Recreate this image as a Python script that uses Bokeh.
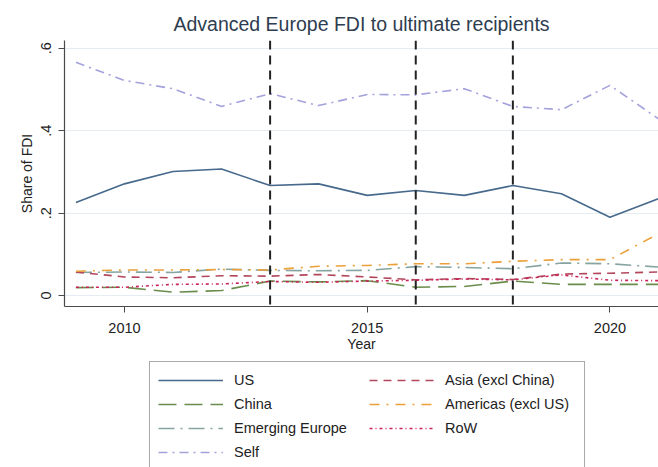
import math
from bokeh.plotting import figure
from bokeh.layouts import column
from bokeh.models import (ColumnDataSource, Span, Legend, LegendItem, FixedTicker, Range1d)
from bokeh.embed import file_html
from bokeh.resources import INLINE

# ---- data ----
years = [2009, 2010, 2011, 2012, 2013, 2014, 2015, 2016, 2017, 2018, 2019, 2020, 2021]
us = [0.226, 0.271, 0.301, 0.307, 0.267, 0.271, 0.243, 0.255, 0.243, 0.267, 0.247, 0.190, 0.235]
china = [0.019, 0.020, 0.008, 0.012, 0.035, 0.033, 0.036, 0.020, 0.022, 0.035, 0.027, 0.027, 0.027]
emerging_europe = [0.056, 0.057, 0.056, 0.064, 0.061, 0.060, 0.061, 0.070, 0.068, 0.065, 0.079, 0.077, 0.069]
self_share = [0.566, 0.522, 0.502, 0.459, 0.490, 0.461, 0.488, 0.487, 0.502, 0.459, 0.451, 0.510, 0.429]
asia_excl_china = [0.057, 0.045, 0.043, 0.048, 0.047, 0.051, 0.045, 0.038, 0.041, 0.039, 0.052, 0.054, 0.057]
americas_excl_us = [0.059, 0.062, 0.062, 0.063, 0.062, 0.071, 0.073, 0.077, 0.077, 0.083, 0.087, 0.087, 0.150]
row = [0.020, 0.020, 0.027, 0.028, 0.034, 0.032, 0.035, 0.037, 0.040, 0.038, 0.050, 0.037, 0.036]

series_names = ["US", "China", "Emerging Europe", "Self",
                "Asia (excl China)", "Americas (excl US)", "RoW"]
event_years = [2013, 2016, 2018]
y_ticks = [0, 0.2, 0.4, 0.6]
y_tick_labels = ["0", ".2", ".4", ".6"]
x_ticks = [2010, 2015, 2020]

# ---- styles ----
styles = {
    "US": dict(color="#46698c", dash="solid", width=1.6),
    "China": dict(color="#6a8c4c", dash="18 8", width=1.6),
    "Emerging Europe": dict(color="#86a4a0", dash="16 6 2 6", width=1.6),
    "Self": dict(color="#a3a2dc", dash="9 5 2 5", width=1.6),
    "Asia (excl China)": dict(color="#b2475c", dash="8 6", width=1.6),
    "Americas (excl US)": dict(color="#eba03a", dash="10 7 2 7", width=1.6),
    "RoW": dict(color="#c8245a", dash="3 3 1 3", width=1.6),
}

source = ColumnDataSource(dict(
    year=years, US=us, China=china, EE=emerging_europe, Self=self_share,
    Asia=asia_excl_china, Americas=americas_excl_us, RoW=row))
cols = {"US": "US", "China": "China", "Emerging Europe": "EE", "Self": "Self",
        "Asia (excl China)": "Asia", "Americas (excl US)": "Americas", "RoW": "RoW"}

FONT = "Liberation Sans"

# ---- main chart ----
p = figure(width=658, height=355, output_backend="svg", toolbar_location=None,
           x_range=Range1d(2008.765, 2021.0), y_range=Range1d(-0.0267, 0.619),
           min_border_left=64, min_border_right=0, min_border_top=40,
           min_border_bottom=49)
p.title.text = "Advanced Europe FDI to ultimate recipients"
p.title.align = "center"
p.title.text_font = FONT
p.title.text_font_size = "19.5px"
p.title.text_font_style = "normal"
p.title.text_color = "#2e3d50"
p.title.standoff = 11

p.outline_line_color = None
p.background_fill_color = "white"
p.border_fill_color = "white"

p.xgrid.visible = False
p.ygrid.grid_line_color = "#e6edf2"
p.ygrid.grid_line_width = 1
p.ygrid.ticker = FixedTicker(ticks=y_ticks)

p.yaxis.ticker = FixedTicker(ticks=y_ticks)
p.yaxis.major_label_overrides = {t: l for t, l in zip(y_ticks, y_tick_labels)}
p.yaxis.major_label_orientation = "vertical"
p.yaxis.axis_label = "Share of FDI"
p.xaxis.ticker = FixedTicker(ticks=x_ticks)
p.xaxis.axis_label = "Year"

for ax in (p.xaxis, p.yaxis):
    ax.axis_line_color = "#4a4a4a"
    ax.axis_line_width = 1.2
    ax.major_tick_line_color = "#4a4a4a"
    ax.major_tick_out = 6
    ax.major_tick_in = 0
    ax.minor_tick_line_color = None
    ax.major_label_text_font = FONT
    ax.major_label_text_font_size = "14.5px"
    ax.major_label_text_color = "#222222"
    ax.axis_label_text_font = FONT
    ax.axis_label_text_font_size = "14px"
    ax.axis_label_text_font_style = "normal"
    ax.axis_label_text_color = "#222222"

p.xaxis.major_label_standoff = 10
p.xaxis.axis_label_standoff = 0
p.yaxis.major_label_standoff = 7
p.yaxis.axis_label_standoff = 4

for name in series_names:
    st = styles[name]
    p.line("year", cols[name], source=source, line_color=st["color"],
           line_width=st["width"], line_dash=st["dash"])

for yr in event_years:
    p.add_layout(Span(location=yr, dimension="height", line_color="#222222",
                      line_width=2, line_dash="9 6"))

# ---- legend panel (separate figure; its lines lie outside its view) ----
q = figure(width=658, height=112, output_backend="svg", toolbar_location=None,
           x_range=Range1d(0, 1), y_range=Range1d(0, 1),
           min_border_left=0, min_border_right=0, min_border_top=0,
           min_border_bottom=0)
q.axis.visible = False
q.grid.visible = False
q.outline_line_color = None
q.border_fill_color = "white"

items = []
for name in series_names:
    st = styles[name]
    r = q.line("year", cols[name], source=source, line_color=st["color"],
               line_width=st["width"], line_dash=st["dash"])
    items.append(LegendItem(label=name, renderers=[r]))

legend = Legend(items=items, location=(85, -4), nrows=4, orientation="vertical")
legend.label_text_font = FONT
legend.label_text_font_size = "14.5px"
legend.label_text_color = "#222222"
legend.glyph_width = 65
legend.glyph_height = 20
legend.label_height = 20
legend.label_width = 131
legend.label_standoff = 11
legend.spacing = 4
legend.padding = 8
legend.margin = 0
legend.border_line_color = "#555555"
legend.border_line_width = 1.2
legend.background_fill_color = "white"
legend.background_fill_alpha = 1.0
q.add_layout(legend)

open("out.html", "w").write(file_html(column(p, q, spacing=0), INLINE))
